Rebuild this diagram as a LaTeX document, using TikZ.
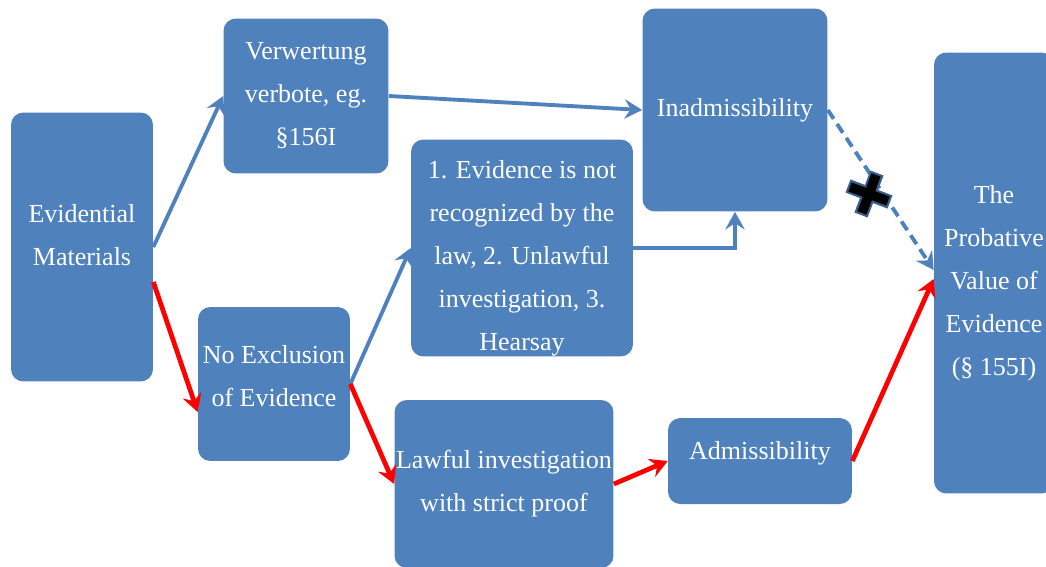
\documentclass[tikz,border=0pt]{standalone}
\usepackage{fontspec}
\setmainfont{Liberation Serif}
\usetikzlibrary{arrows.meta,calc,positioning}
\definecolor{boxblue}{HTML}{4F81BD}
\definecolor{arrowred}{HTML}{FF0000}
\definecolor{crossrim}{HTML}{3A5F8E}

\begin{document}
\begin{tikzpicture}[x=0.02cm, y=-0.02cm,
every node/.style={
        font=\fontsize{14.8}{24.5}\selectfont
    },
    box/.style = {rectangle, rounded corners=7pt, fill=boxblue, text=white,
                  align=center, inner sep=0pt},
    boxtext/.style = {text=white, align=center, inner sep=0pt},
    tip/.style = {-{Stealth[length=10pt,width=11pt,inset=3.5pt]}},
    blueline/.style = {draw=boxblue, line width=2.2pt, tip},
    redline/.style = {draw=arrowred, line width=2.7pt, tip},
    dashline/.style = {blueline, dash pattern=on 6pt off 3.5pt}
    ]
\useasboundingbox (0,0) rectangle (1046,566);

\node (Evid)  [box, minimum width=2.84cm, minimum height=5.38cm,
               label={[boxtext, yshift=0.24cm]center:Evidential\\Materials}] at (82,247) {};
\node (Verw)  [box, minimum width=3.30cm, minimum height=3.10cm] at (306,96)
        {Verwertung\\verbote, eg.\\§156I};
\node (Inadm) [box, minimum width=3.70cm, minimum height=4.06cm] at (735,110)
        {Inadmissibility};
\node (Recog) [box, minimum width=4.44cm, minimum height=4.34cm,
               label={[boxtext, yshift=-0.2cm]center:1. Evidence is not\\recognized by the\\law, 2. Unlawful\\investigation, 3.\\Hearsay}] at (522,248) {};
\node (NoExcl) [box, minimum width=3.04cm, minimum height=3.08cm,
               label={[boxtext, yshift=0.16cm]center:No Exclusion\\of Evidence}] at (274,384) {};
\node (Lawful) [box, minimum width=4.38cm, minimum height=3.36cm] at (504,484)
        {Lawful investigation\\with strict proof};
\node (Adm)   [box, minimum width=3.68cm, minimum height=1.72cm,
               label={[boxtext, yshift=0.16cm]center:Admissibility}] at (760,461) {};
\node (Prob)  [box, minimum width=2.40cm, minimum height=8.82cm,
               label={[boxtext, yshift=-0.2cm]center:The\\Probative\\Value of\\Evidence\\(§ 155I)}] at (994,273) {};

\path
    (Evid.east)   edge [blueline] (Verw.west)
    (Verw.east)   edge [blueline] (Inadm.west)
    (NoExcl.east) edge [blueline] (Recog.west)
    ($(Evid.east)+(0,35)$) edge [redline] ($(NoExcl.west)+(0,28)$)
    (NoExcl.east) edge [redline] (Lawful.west)
    (Lawful.east) edge [redline] (Adm.west)
    (Adm.east)    edge [redline] ($(Prob.west)+(0,6)$)
    (Inadm.east)  edge [dashline] ($(Prob.west)+(0,-3)$);
\draw[blueline] (Recog.east) -| (Inadm.south);

% cross over the dashed line
\node (Block) [inner sep=0pt, minimum size=0pt] at (869,194) {};
\draw[crossrim, line width=8pt]
    ($(Block)+(-21,-8)$) -- ($(Block)+(21,8)$)
    ($(Block)+(8,-21)$) -- ($(Block)+(-8,21)$);
\draw[black, line width=5.5pt]
    ($(Block)+(-19,-7)$) -- ($(Block)+(19,7)$)
    ($(Block)+(7,-19)$) -- ($(Block)+(-7,19)$);
\end{tikzpicture}
\end{document}
